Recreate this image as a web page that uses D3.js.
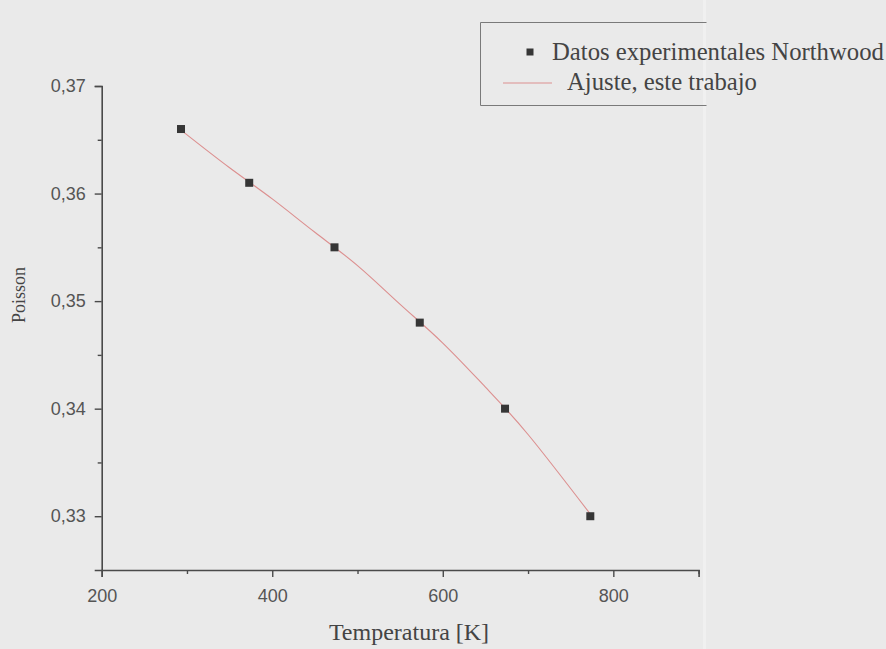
<!DOCTYPE html>
<html>
<head>
<meta charset="utf-8">
<script src="https://cdn.jsdelivr.net/npm/d3@7"></script>
<style>
  body { margin: 0; background: #eaeaea; }
  svg { display: block; }
</style>
</head>
<body>
<svg id="chart" width="886" height="649"></svg>
<script>
// measured points (Northwood)
const tempK = [293, 373, 473, 573, 673, 773];
const poisson = [0.366, 0.361, 0.355, 0.348, 0.340, 0.330];

// fitted curve
const fitTemp = [293, 350, 400, 450, 500, 550, 600, 650, 700, 773];
const fitPoisson = [0.3659, 0.3624, 0.3595, 0.3564, 0.3533, 0.3497, 0.3461, 0.3420, 0.3376, 0.3302];

const xTicks = [200, 400, 600, 800];
const xMinor = [300, 500, 700, 900];
const yTicks = [0.33, 0.34, 0.35, 0.36, 0.37];
const yMinor = [0.335, 0.345, 0.355, 0.365];

const legendLabels = ["Datos experimentales Northwood", "Ajuste, este trabajo"];

const svg = d3.select("#chart");

const x = d3.scaleLinear().domain([200, 900]).range([101.7, 698.6]);
const y = d3.scaleLinear().domain([0.325, 0.37]).range([570, 86]);

const axisColor = "#4a4a4a";
const tickFont = "'Liberation Sans', Arial, sans-serif";
const serif = "'Liberation Serif', 'Times New Roman', serif";

// faint scan line on the right
svg.append("rect")
  .attr("x", 703).attr("y", 0)
  .attr("width", 3).attr("height", 649)
  .style("fill", "#f0f0f0");

// x axis
svg.append("g")
  .attr("transform", `translate(0,${y(0.325)})`)
  .call(d3.axisBottom(x).tickValues(xTicks).tickSize(7).tickPadding(12).tickFormat(d3.format("d")));
svg.append("g")
  .attr("transform", `translate(0,${y(0.325)})`)
  .call(d3.axisBottom(x).tickValues(xMinor).tickSize(4).tickFormat(""))
  .select(".domain").remove();

// y axis
svg.append("g")
  .attr("transform", `translate(${x(200)},0)`)
  .call(d3.axisLeft(y).tickValues(yTicks).tickSize(7).tickPadding(9)
    .tickFormat(d => d3.format(".2f")(d).replace(".", ",")));
svg.append("g")
  .attr("transform", `translate(${x(200)},0)`)
  .call(d3.axisLeft(y).tickValues(yMinor).tickSize(4).tickFormat(""))
  .select(".domain").remove();

svg.selectAll(".domain")
  .style("stroke", axisColor).style("stroke-width", 1.6);
svg.selectAll(".tick line")
  .style("stroke", axisColor).style("stroke-width", 1.4);
svg.selectAll(".tick text")
  .style("font-family", tickFont).style("font-size", "18px").style("fill", "#555");

// fit curve
const fitData = fitTemp.map((t, i) => ({ t: t, p: fitPoisson[i] }));
svg.append("path")
  .datum(fitData)
  .attr("d", d3.line().x(d => x(d.t)).y(d => y(d.p)).curve(d3.curveNatural))
  .style("fill", "none")
  .style("stroke", "#dc8f8f")
  .style("stroke-width", 1.1);

// data points
const sq = 8;
svg.selectAll(".pt")
  .data(tempK)
  .enter()
  .append("rect")
  .attr("class", "pt")
  .attr("x", (d) => x(d) - sq / 2)
  .attr("y", (d, i) => y(poisson[i]) - sq / 2)
  .attr("width", sq)
  .attr("height", sq)
  .style("fill", "#363636");

// axis titles
svg.append("text")
  .attr("x", 409).attr("y", 640)
  .attr("text-anchor", "middle")
  .style("font-family", serif).style("font-size", "24px").style("fill", "#444")
  .text("Temperatura [K]");

svg.append("text")
  .attr("transform", "translate(25,295) rotate(-90)")
  .attr("text-anchor", "middle")
  .style("font-family", serif).style("font-size", "18px").style("fill", "#444")
  .text("Poisson");

// legend (box is open on the right)
const legend = svg.append("g");
legend.append("path")
  .attr("d", "M706.5,22.5 H480.5 V105.5 H706.5")
  .style("fill", "none").style("stroke", "#7a7a7a").style("stroke-width", 1);

legend.append("rect")
  .attr("x", 530 - 3.5).attr("y", 52 - 3.5)
  .attr("width", 7).attr("height", 7)
  .style("fill", "#363636");
legend.append("line")
  .attr("x1", 503).attr("x2", 552).attr("y1", 83).attr("y2", 83)
  .style("stroke", "#dc8f8f").style("stroke-width", 1.1);

legend.selectAll(".lg")
  .data(legendLabels)
  .enter()
  .append("text")
  .attr("class", "lg")
  .attr("x", (d, i) => i === 0 ? 552 : 567)
  .attr("y", (d, i) => i === 0 ? 60 : 90)
  .style("font-family", serif).style("font-size", "24.7px").style("fill", "#444")
  .text(d => d);
</script>
</body>
</html>
